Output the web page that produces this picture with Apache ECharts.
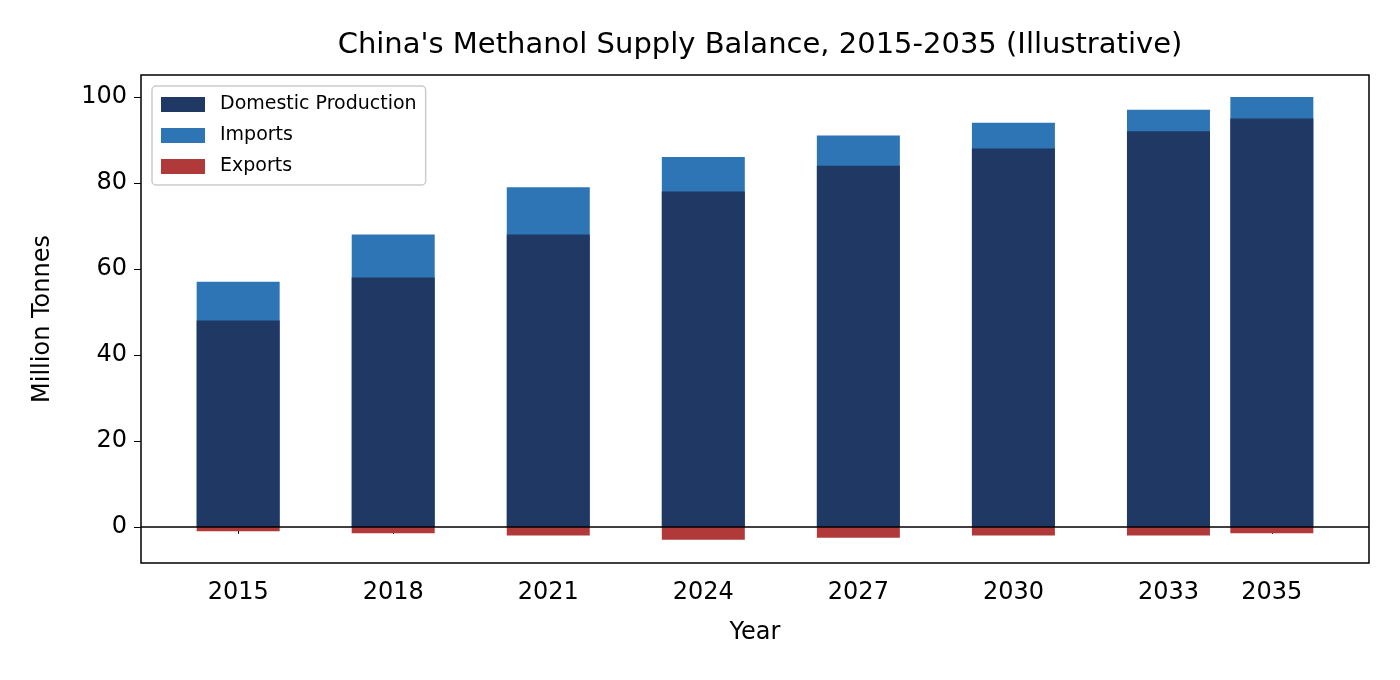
<!DOCTYPE html>
<html><head><meta charset="utf-8">
<script src="https://cdn.jsdelivr.net/npm/echarts@6/dist/echarts.min.js"></script>
<style>html,body{margin:0;padding:0;background:#fff}#c{width:1400px;height:680px}</style>
</head><body><div id="c"></div>
<script>
const years = [2015, 2018, 2021, 2024, 2027, 2030, 2033, 2035];
const production = [48, 58, 68, 78, 84, 88, 92, 95];
const imports = [9, 10, 11, 8, 7, 6, 5, 5];
const exportsV = [-1, -1.5, -2, -3, -2.5, -2, -2, -1.5];
const yTicks = [0, 20, 40, 60, 80, 100];

const font = 'DejaVu Sans';
const pair = arr => years.map((y, i) => [y, arr[i]]);
const supplyTop = production.map((p, i) => p + imports[i]);
const chart = echarts.init(document.getElementById('c'));
const bar = (name, data, color, z) => ({
  name, type: 'bar', data: pair(data), barWidth: 83, barGap: '-100%', z,
  itemStyle: { color }, emphasis: { disabled: true }
});
chart.setOption({
  animation: false,
  textStyle: { fontFamily: font },
  title: { text: "China's Methanol Supply Balance, 2015-2035 (Illustrative)", left: 755, textAlign: 'center', top: 26,
    textStyle: { fontFamily: font, fontSize: 29, fontWeight: 'normal', color: '#000' } },
  grid: { left: 141, right: 31, top: 75, bottom: 117, show: true, borderColor: '#000', borderWidth: 1.5, backgroundColor: 'transparent' },
  legend: { left: 152, top: 86, orient: 'vertical', itemWidth: 44, itemHeight: 15, itemGap: 12, icon: 'rect',
    borderColor: '#ccc', borderWidth: 1.5, borderRadius: 4, padding: [9, 9, 9, 9],
    textStyle: { fontFamily: font, fontSize: 19, color: '#000', padding: [0, 0, 0, 10] },
    data: ['Domestic Production', 'Imports', 'Exports'] },
  xAxis: { type: 'value', min: 2013.12, max: 2036.88, name: 'Year', nameLocation: 'middle', nameGap: 58,
    nameTextStyle: { fontFamily: font, fontSize: 24, color: '#000' },
    splitLine: { show: false }, axisLine: { show: false },
    axisTick: { show: true, customValues: years, length: 7, lineStyle: { color: '#000' } },
    axisLabel: { customValues: years, fontFamily: font, fontSize: 24, color: '#000', margin: 18, formatter: v => String(v) } },
  yAxis: { type: 'value', min: -8.4, max: 105.1, name: 'Million Tonnes', nameLocation: 'middle', nameGap: 86,
    nameTextStyle: { fontFamily: font, fontSize: 24, color: '#000' },
    splitLine: { show: false }, axisLine: { show: false },
    axisTick: { show: true, customValues: yTicks, length: 7, lineStyle: { color: '#000' } },
    axisLabel: { customValues: yTicks, fontFamily: font, fontSize: 24, color: '#000', margin: 14 } },
  series: [
    Object.assign(bar('Domestic Production', production, '#203864', 3), {
      markLine: { silent: true, symbol: 'none', z: 5, label: { show: false }, lineStyle: { color: '#000', width: 1.5, type: 'solid' }, data: [{ yAxis: 0 }] } }),
    bar('Imports', supplyTop, '#2e75b6', 2),
    bar('Exports', exportsV, '#b03a3a', 2)
  ]
});
</script></body></html>
